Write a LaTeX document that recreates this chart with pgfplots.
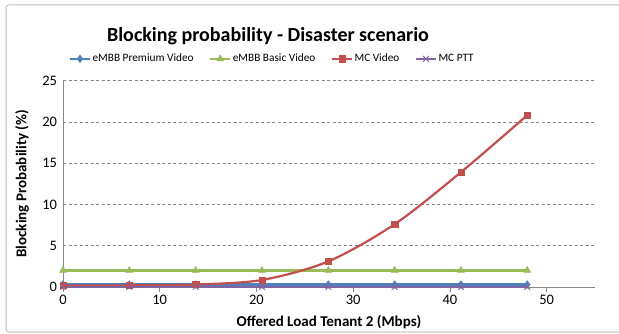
\documentclass[border=0pt]{standalone}
\usepackage{fontspec}
\setmainfont{Carlito}
\usepackage{pgfplots}
\pgfplotsset{compat=1.18}
\definecolor{cblue}{HTML}{4F81BD}
\definecolor{cred}{HTML}{C0504D}
\definecolor{cgreen}{HTML}{9BBB59}
\definecolor{cpurple}{HTML}{8064A2}
\definecolor{axgray}{HTML}{868686}
\begin{document}
\begin{tikzpicture}[x=1pt,y=1pt]
\useasboundingbox (0,0) rectangle (619,333);
\draw[gray!50, line width=1pt, rounded corners=3pt] (6,1) rectangle (650,328);
\node[font=\bfseries\fontsize{20}{24}\selectfont] at (268,297) {Blocking probability - Disaster scenario};
\begin{axis}[
  at={(63pt,46pt)}, anchor=south west,
  scale only axis, width=532pt, height=206.5pt,
  xmin=0, xmax=55, ymin=0, ymax=25,
  xtick={0,10,...,50}, ytick={0,5,...,25},
  axis x line=bottom, axis y line=left,
  axis line style={-, draw=axgray, line width=0.8pt},
  ymajorgrids, grid style={draw=axgray, dashed, line width=0.6pt, dash pattern=on 3pt off 2.5pt},
  xtick align=outside, major tick length=5pt,
  xtick style={draw=axgray, line width=0.8pt},
  ytick style={draw=none},
  tick label style={font=\fontsize{14.5}{14.5}\selectfont},
  /pgf/number format/assume math mode=true,
  xlabel={\bfseries Offered Load Tenant 2 (Mbps)},
  ylabel={\bfseries Blocking Probability (\%)},
  label style={font=\bfseries\fontsize{15}{17}\selectfont},
  xlabel style={at={(axis description cs:0.5,-0.17)}, anchor=center},
  ylabel style={at={(axis description cs:-0.077,0.5)}, anchor=center},
  legend columns=-1,
  legend style={at={(axis description cs:0.393,1.105)}, anchor=center, draw=none, fill=none,
     font=\fontsize{11.3}{13}\selectfont, nodes={inner sep=1.5pt},
     /tikz/every even column/.append style={column sep=14pt}},
  legend image code/.code={\draw[mark repeat=2,mark phase=2,#1] plot coordinates {(0pt,0pt) (10pt,0pt) (20pt,0pt)};},
  every axis plot/.append style={line width=2.2pt},
]
\addplot[cblue, mark=diamond*, mark size=3.8pt, mark options={solid,line width=0.5pt}] coordinates {
(0,0.3) (6.857,0.3) (13.714,0.3) (20.571,0.3) (27.429,0.3) (34.286,0.3) (41.143,0.3) (48,0.3)};
\addlegendentry{eMBB Premium Video}
\addplot[cgreen, mark=triangle*, mark size=4pt, mark options={solid,line width=0.5pt}] coordinates {
(0,2.0) (6.857,2.0) (13.714,2.0) (20.571,2.0) (27.429,2.0) (34.286,2.0) (41.143,2.0) (48,2.0)};
\addlegendentry{eMBB Basic Video}
\addplot[cred, smooth, tension=0.5, mark=square*, mark size=3.2pt, mark options={solid,line width=0.5pt}] coordinates {
(0,0.2) (6.857,0.2) (13.714,0.3) (20.571,0.85) (27.429,3.1) (34.286,7.6) (41.143,13.9) (48,20.8)};
\addlegendentry{MC Video}
\addplot[cpurple, mark=x, mark size=4pt, mark options={solid,line width=1pt}] coordinates {
(0,0.02) (6.857,0.02) (13.714,0.02) (20.571,0.02) (27.429,0.02) (34.286,0.02) (41.143,0.02) (48,0.02)};
\addlegendentry{MC PTT}
\end{axis}
\end{tikzpicture}
\end{document}
